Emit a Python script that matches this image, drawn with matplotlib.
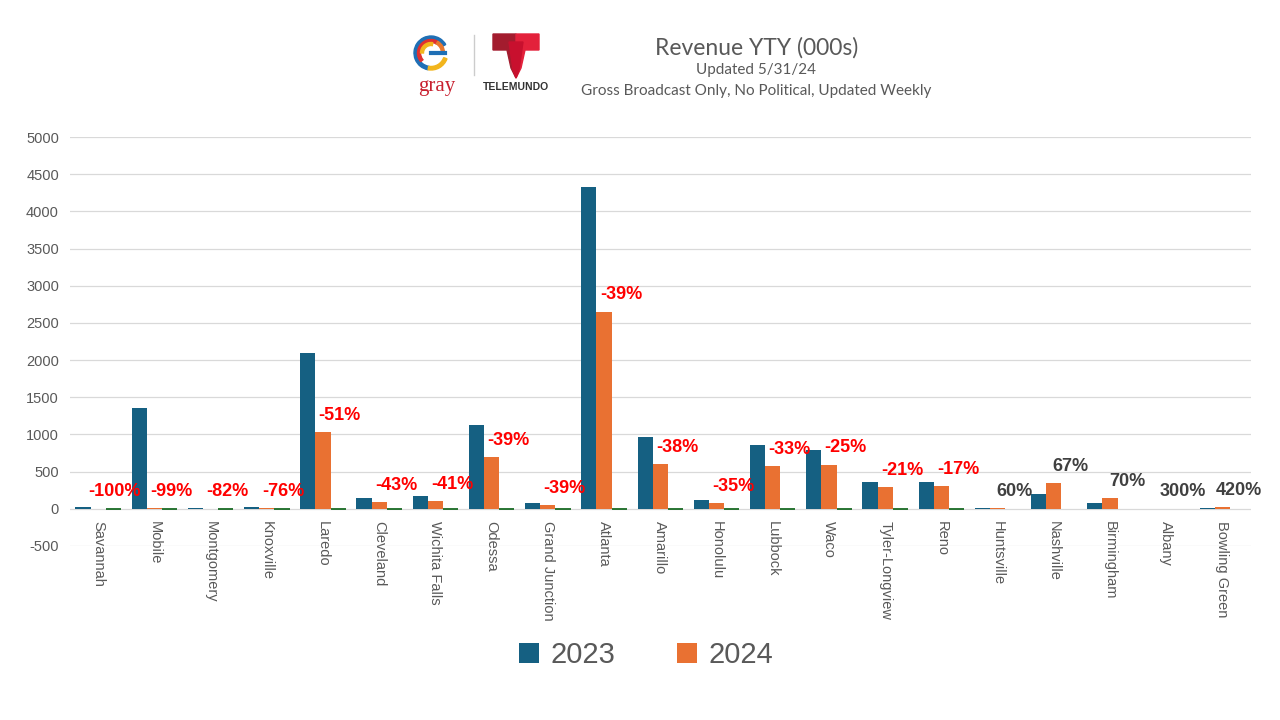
import numpy as np
import matplotlib
matplotlib.use("Agg")
from matplotlib import pyplot as plt
from matplotlib.patches import Wedge, Polygon

# data (000s)
cities = ["Savannah", "Mobile", "Montgomery", "Knoxville", "Laredo", "Cleveland",
          "Wichita Falls", "Odessa", "Grand Junction", "Atlanta", "Amarillo",
          "Honolulu", "Lubbock", "Waco", "Tyler-Longview", "Reno", "Huntsville",
          "Nashville", "Birmingham", "Albany", "Bowling Green"]
rev_2023 = [25, 1350, 5, 25, 2100, 150, 170, 1130, 74, 4330, 970, 120, 860, 795,
            365, 365, 5, 205, 82, 1, 5]
rev_2024 = [0, 10, 1, 6, 1035, 85, 100, 690, 45, 2650, 600, 78, 575, 595,
            288, 303, 8, 343, 140, 4, 26]
pct_change = [-100, -99, -82, -76, -51, -43, -41, -39, -39, -39, -38, -35, -33, -25,
              -21, -17, 60, 67, 70, 300, 420]
yticks = list(range(-500, 5001, 500))

c23 = "#156082"
c24 = "#E97132"
cpct = "#196B24"
grey = "#595959"

plt.rcParams['font.family'] = ['Liberation Sans', 'DejaVu Sans']

fig = plt.figure(figsize=(12.8, 7.2), dpi=100)
ax = fig.add_axes([0.0547, 0.2417, 0.9223, 0.568])

x = np.arange(len(cities))
w = 0.27
ax.bar(x - w, rev_2023, w, color=c23, label="2023", zorder=3)
ax.bar(x, rev_2024, w, color=c24, label="2024", zorder=3)
pct_frac = [p / 100 for p in pct_change]
neg = [p < 0 for p in pct_change]
ax.bar(x + w, pct_frac, w,
       color=[cpct if n else "none" for n in neg],
       edgecolor=[cpct if n else "none" for n in neg],
       linewidth=1.3, zorder=3)

for i, p in enumerate(pct_change):
    col = "#FF0000" if p < 0 else "#404040"
    ax.annotate(f"{p}%", (x[i] + 0.3, max(rev_2024[i], 0)), xytext=(0, 6),
                textcoords="offset points", ha="center", va="bottom",
                fontsize=13, fontweight="bold", color=col, zorder=5)

# category axis sits on zero like in excel
ax.spines['bottom'].set_position(('data', 0))
ax.set_xlim(-0.5, len(cities) - 0.5)
ax.set_ylim(-500, 5000)
ax.set_yticks(yticks)
ax.set_yticklabels([str(t) for t in yticks], fontsize=10.5, color=grey)
ax.yaxis.grid(True, color="#d9d9d9", linewidth=0.9, zorder=0)
ax.set_xticks(x)
ax.set_xticklabels(cities, rotation=-90, fontsize=10.5, color=grey, va="top")
ax.tick_params(length=0, pad=8)
ax.tick_params(axis="x", pad=9)
for s in ax.spines.values():
    s.set_visible(False)

leg = ax.legend(loc="upper center", bbox_to_anchor=(0.488, -0.168), ncol=2,
                frameon=False, fontsize=21, handlelength=0.7, handleheight=0.7,
                columnspacing=2.1, handletextpad=0.4)
for t in leg.get_texts():
    t.set_color(grey)

# titles
fig.text(0.591, 0.934, "Revenue YTY (000s)", ha="center", va="center",
         fontsize=16.5, color=grey, family=['Lato', 'DejaVu Sans'])
fig.text(0.591, 0.903, "Updated 5/31/24", ha="center", va="center",
         fontsize=11, color=grey, family=['Lato', 'DejaVu Sans'])
fig.text(0.591, 0.874, "Gross Broadcast Only, No Political, Updated Weekly",
         ha="center", va="center", fontsize=11, color=grey,
         family=['Lato', 'DejaVu Sans'])

# logos (rough)
lg = fig.add_axes([0, 0, 1, 1])
lg.set_xlim(0, 1280)
lg.set_ylim(720, 0)
lg.axis("off")
cx, cy = 431, 53
lg.add_patch(Wedge((cx, cy), 17, 100, 330, width=3.5, color="#1f6fb5"))
lg.add_patch(Wedge((cx, cy), 13.5, 140, 300, width=3, color="#e0312f"))
lg.add_patch(Wedge((cx, cy), 17, 20, 100, width=3.5, color="#f2b51c"))
lg.add_patch(Wedge((cx, cy), 10.5, 180, 280, width=3, color="#f2b51c"))
lg.add_patch(Wedge((cx, cy), 13.5, 300, 360, width=3, color="#e8772e"))
lg.plot([cx, cx + 14], [cy, cy], color="#1f6fb5", lw=3)
lg.text(437, 87, "gray", ha="center", va="center", fontsize=15,
        color="#c8202f", family=['Liberation Serif', 'DejaVu Serif'])
lg.plot([474, 474], [35, 75], color="#cccccc", lw=1)
lg.add_patch(Polygon([(493, 34), (516, 34), (516, 78), (511, 68), (507, 50),
                      (493, 50)], color="#a31c2e"))
lg.add_patch(Polygon([(539, 34), (516, 34), (516, 78), (521, 68), (525, 50),
                      (539, 50)], color="#e3213b"))
lg.add_patch(Polygon([(509, 42), (523, 42), (519, 70), (516, 78), (513, 70)],
                     color="#c8102e"))
lg.text(516, 87, "TELEMUNDO", ha="center", va="center", fontsize=7.5,
        fontweight="bold", color="#333333")

fig.savefig("out.png", dpi=100)
